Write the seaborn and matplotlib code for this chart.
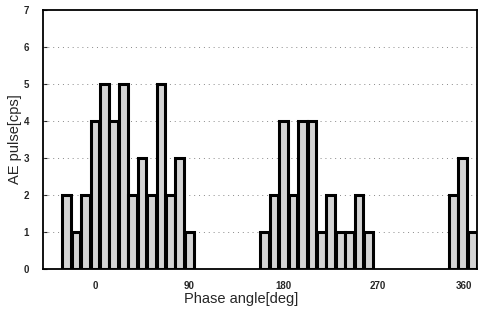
import matplotlib
matplotlib.use("Agg")
import matplotlib.pyplot as plt
import seaborn as sns
import pandas as pd

# Phase angle bins (deg) and AE pulse counts (cps)
phase_deg = [-27, -18, -9, 0, 9, 18, 27, 36, 45, 54, 63, 72, 81, 90,
             162, 171, 180, 189, 198, 207, 216, 225, 234, 243, 252, 261,
             342, 351, 360]
ae_pulse = [2, 1, 2, 4, 5, 4, 5, 2, 3, 2, 5, 2, 3, 1,
            1, 2, 4, 2, 4, 4, 1, 2, 1, 1, 2, 1,
            2, 3, 1]
x_ticks = [0, 90, 180, 270, 360]
y_ticks = [0, 1, 2, 3, 4, 5, 6, 7]

sns.set_style("white")
plt.rcParams['font.family'] = ['Liberation Sans', 'DejaVu Sans']

df = pd.DataFrame({"phase": phase_deg, "pulse": ae_pulse})

fig = plt.figure(figsize=(4.79, 3.26), dpi=100)
ax = fig.add_axes([0.0898, 0.175, 0.906, 0.794])

sns.barplot(data=df, x="phase", y="pulse", native_scale=True, width=0.92,
            color="#d4d4d4", edgecolor="black", linewidth=2.2,
            saturation=1, ax=ax, zorder=3)

ax.set_xlim(-49.5, 364.5)
ax.set_ylim(0, 7)
ax.set_xticks(x_ticks)
ax.set_xticklabels([str(t) for t in x_ticks], fontsize=7, fontweight="bold")
ax.get_xticklabels()[-1].set_horizontalalignment("right")
ax.set_yticks(y_ticks)
ax.set_yticklabels([str(t) for t in y_ticks], fontsize=7, fontweight="bold")

for yv in y_ticks[1:-1]:
    ax.axhline(yv, color="#888888", linestyle=(0, (1, 4)), linewidth=0.7, zorder=1)

for s in ax.spines.values():
    s.set_visible(True)
    s.set_color("black")
    s.set_linewidth(1.3)

ax.tick_params(axis="y", direction="in", length=3, width=0.8, left=True, pad=10)
ax.tick_params(axis="x", length=0, pad=9)

ax.set_xlabel("Phase angle[deg]", fontsize=10.5, labelpad=2)
ax.xaxis.set_label_coords(0.456, -0.09)
ax.set_ylabel("AE pulse[cps]", fontsize=10.5, labelpad=1.5)

fig.savefig("out.png", dpi=100)
